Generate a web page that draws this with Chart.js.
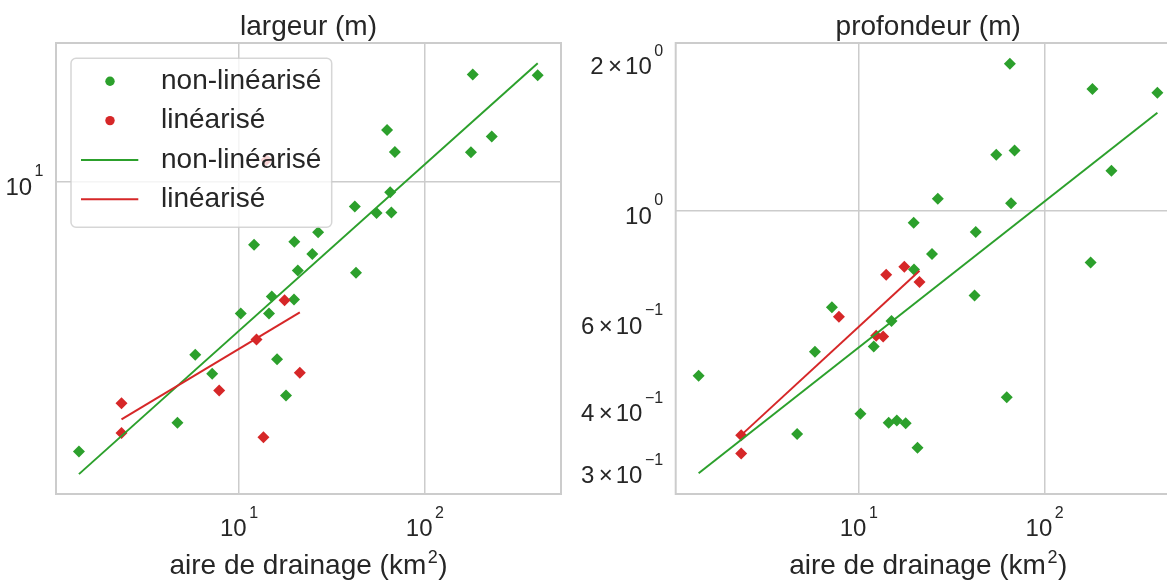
<!DOCTYPE html>
<html>
<head>
<meta charset="utf-8">
<script src="https://cdn.jsdelivr.net/npm/chart.js@4.4.1/dist/chart.umd.min.js"></script>
<style>
  html, body { margin: 0; padding: 0; background: #ffffff; overflow: hidden; width: 1167px; height: 582px; }
  #largeur { position: absolute; left: 0; top: 0; }
  #profondeur { position: absolute; left: 565px; top: 0; }
</style>
</head>
<body>
<canvas id="largeur" width="585" height="582"></canvas>
<canvas id="profondeur" width="625" height="582"></canvas>
<script>
// Drainage area (km²) of the non-linearised reaches, and their width / depth (m)
const areaNonLin = [1.375, 4.66, 5.81, 7.17, 10.21, 12.04, 14.49, 15.0, 16.02, 17.89, 19.75, 19.83, 20.71,
                    24.79, 26.64, 41.98, 42.6, 54.95, 62.58, 65.04, 66.0, 68.94, 176.9, 180.9, 228.9, 404.6];
const largeurNonLin = [1.53, 1.87, 3.0, 2.63, 4.0, 6.46, 4.0, 4.51, 2.91, 2.26, 4.41, 6.6, 5.4,
                       6.06, 7.06, 8.44, 5.32, 8.07, 14.4, 9.33, 8.09, 12.35, 12.33, 21.2, 13.75, 21.1];
const profondeurNonLin = [0.466, 0.356, 0.521, 0.640, 0.391, 0.534, 0.375, 0.601, 0.379, 0.374, 0.947, 0.763, 0.334,
                          0.819, 1.059, 0.676, 0.907, 1.298, 0.422, 1.979, 1.036, 1.323, 0.788, 1.760, 1.205, 1.730];

// Linearised reaches
const areaLin = [2.33, 2.33, 7.82, 12.41, 13.53, 14.05, 17.58, 21.23];
const largeurLin = [2.14, 1.74, 2.34, 3.34, 1.69, 11.68, 4.39, 2.65];
const profondeurLin = [0.354, 0.325, 0.613, 0.561, 0.559, 0.744, 0.772, 0.720];

// Fitted power laws, evaluated at both ends of each group's area range
const fitAreaNonLin = [1.375, 404.6];
const fitLargeurNonLin = [1.306, 22.94];
const fitProfondeurNonLin = [0.2967, 1.577];
const fitAreaLin = [2.33, 21.23];
const fitLargeurLin = [1.913, 4.037];
const fitProfondeurLin = [0.354, 0.7585];

const seriesLabels = ['non-linéarisé', 'linéarisé'];

// Axis ticks: [mantissa, base, exponent]
const xTickValues = [10, 100];
const xTickLabels = [['', '10', '1'], ['', '10', '2']];
const largeurTickValues = [10];
const largeurTickLabels = [['', '10', '1']];
const profondeurGridValues = [1];
const profondeurTickValues = [0.3, 0.4, 0.6, 1, 2];
const profondeurTickLabels = [['3', '10', '\u22121'], ['4', '10', '\u22121'], ['6', '10', '\u22121'],
                              ['', '10', '0'], ['2', '10', '0']];

const GREEN = '#2ca02c';
const RED = '#d62728';
const TEXT = '#262626';
const GRID = '#cccccc';
const FONT = '"Liberation Sans", Arial, Helvetica, sans-serif';
const font = px => px + 'px ' + FONT;

const pts = (xs, ys) => xs.map((x, i) => ({ x: x, y: ys[i] }));

function drawPower(ctx, parts, x, y, align) {
  const segs = [];
  if (parts[0]) {
    segs.push({ t: parts[0], px: 24, dy: 0, after: 4.5 });
    segs.push({ t: '\u00d7', px: 24, dy: 0, after: 3 });
  }
  segs.push({ t: parts[1], px: 24, dy: 0, after: 2.5 });
  segs.push({ t: parts[2], px: 16, dy: -18.3, after: 0 });
  let w = 0;
  segs.forEach(s => { ctx.font = font(s.px); s.w = ctx.measureText(s.t).width; w += s.w + s.after; });
  let cx = align === 'center' ? x - w / 2 : x - w;
  ctx.textAlign = 'left';
  ctx.textBaseline = 'alphabetic';
  segs.forEach(s => { ctx.font = font(s.px); ctx.fillText(s.t, cx, y + s.dy); cx += s.w + s.after; });
}

function drawAxisTitle(ctx, cx, y) {
  const segs = [
    { t: 'aire de drainage (km', px: 28, dy: 0, after: 1.5 },
    { t: '2', px: 18, dy: -11, after: 0.5 },
    { t: ')', px: 28, dy: 0, after: 0 }
  ];
  let w = 0;
  segs.forEach(s => { ctx.font = font(s.px); s.w = ctx.measureText(s.t).width; w += s.w + s.after; });
  let x = cx - w / 2;
  ctx.textAlign = 'left';
  ctx.textBaseline = 'alphabetic';
  segs.forEach(s => { ctx.font = font(s.px); ctx.fillText(s.t, x, y + s.dy); x += s.w + s.after; });
}

function roundRect(ctx, x, y, w, h, r) {
  ctx.beginPath();
  ctx.moveTo(x + r, y);
  ctx.lineTo(x + w - r, y);
  ctx.arcTo(x + w, y, x + w, y + r, r);
  ctx.lineTo(x + w, y + h - r);
  ctx.arcTo(x + w, y + h, x + w - r, y + h, r);
  ctx.lineTo(x + r, y + h);
  ctx.arcTo(x, y + h, x, y + h - r, r);
  ctx.lineTo(x, y + r);
  ctx.arcTo(x, y, x + r, y, r);
  ctx.closePath();
}

function decor(cfg) {
  return {
    id: 'decor',
    beforeDatasetsDraw(chart) {
      const a = chart.chartArea, ctx = chart.ctx;
      ctx.save();
      ctx.strokeStyle = GRID;
      ctx.lineWidth = 2;
      ctx.strokeRect(a.left, a.top, a.right - a.left, a.bottom - a.top);
      ctx.restore();
    },
    afterDatasetsDraw(chart) {
      if (!cfg.legend) return;
      const a = chart.chartArea, ctx = chart.ctx;
      const bx = a.left + 15, by = a.top + 15.3, bw = 260.7, bh = 169;
      ctx.save();
      roundRect(ctx, bx, by, bw, bh, 5);
      ctx.fillStyle = 'rgba(255,255,255,0.8)';
      ctx.fill();
      ctx.strokeStyle = 'rgba(204,204,204,0.8)';
      ctx.lineWidth = 1.5;
      ctx.stroke();
      const entries = [
        { kind: 'dot', color: GREEN, label: seriesLabels[0] },
        { kind: 'dot', color: RED, label: seriesLabels[1] },
        { kind: 'line', color: GREEN, label: seriesLabels[0] },
        { kind: 'line', color: RED, label: seriesLabels[1] }
      ];
      entries.forEach((e, i) => {
        const cy = by + 23 + i * 39.3;
        if (e.kind === 'dot') {
          ctx.beginPath();
          ctx.arc(bx + 39, cy, 4.7, 0, Math.PI * 2);
          ctx.fillStyle = e.color;
          ctx.fill();
        } else {
          ctx.beginPath();
          ctx.moveTo(bx + 10, cy);
          ctx.lineTo(bx + 67.3, cy);
          ctx.strokeStyle = e.color;
          ctx.lineWidth = 2;
          ctx.stroke();
        }
        ctx.fillStyle = TEXT;
        ctx.font = font(28);
        ctx.textAlign = 'left';
        ctx.textBaseline = 'alphabetic';
        ctx.fillText(e.label, bx + 90, cy + 7.8);
      });
      ctx.restore();
    },
    afterDraw(chart) {
      const a = chart.chartArea, ctx = chart.ctx;
      const xs = chart.scales.x, ys = chart.scales.y;
      const cx = (a.left + a.right) / 2;
      ctx.save();
      ctx.fillStyle = TEXT;
      // title
      ctx.font = font(28);
      ctx.textAlign = 'center';
      ctx.textBaseline = 'alphabetic';
      ctx.fillText(cfg.title, cx, 35);
      // x tick labels
      xTickValues.forEach((v, i) => {
        drawPower(ctx, xTickLabels[i], xs.getPixelForValue(v), a.bottom + 42, 'center');
      });
      // y tick labels
      cfg.yTickValues.forEach((v, i) => {
        drawPower(ctx, cfg.yTickLabels[i], a.left - 12.5, ys.getPixelForValue(v) + 12.5, 'right');
      });
      drawAxisTitle(ctx, cx, a.bottom + 80);
      ctx.restore();
    }
  };
}

function makeChart(id, cfg) {
  const gridOpts = { color: GRID, lineWidth: 1.5, drawTicks: false };
  return new Chart(document.getElementById(id), {
    type: 'scatter',
    data: {
      datasets: [
        { label: seriesLabels[0], data: pts(areaNonLin, cfg.yNonLin), pointStyle: 'rectRot',
          pointRadius: 6, pointHoverRadius: 6, backgroundColor: GREEN, borderWidth: 0, order: 4 },
        { label: seriesLabels[1], data: pts(areaLin, cfg.yLin), pointStyle: 'rectRot',
          pointRadius: 6, pointHoverRadius: 6, backgroundColor: RED, borderWidth: 0, order: 3 },
        { label: seriesLabels[0], data: pts(fitAreaNonLin, cfg.fitNonLin), showLine: true,
          pointRadius: 0, borderColor: GREEN, borderWidth: 2, order: 2 },
        { label: seriesLabels[1], data: pts(fitAreaLin, cfg.fitLin), showLine: true,
          pointRadius: 0, borderColor: RED, borderWidth: 2, order: 1 }
      ]
    },
    options: {
      responsive: false,
      animation: false,
      events: [],
      devicePixelRatio: 1,
      layout: { padding: cfg.padding },
      plugins: { legend: { display: false }, tooltip: { enabled: false }, title: { display: false } },
      scales: {
        x: {
          type: 'logarithmic', min: 1.035, max: 540, bounds: 'data',
          afterBuildTicks: s => { s.ticks = xTickValues.map(v => ({ value: v })); },
          ticks: { display: false }, grid: gridOpts, border: { display: false }
        },
        y: {
          type: 'logarithmic', min: cfg.yMin, max: cfg.yMax, bounds: 'data',
          afterBuildTicks: s => { s.ticks = cfg.yGridValues.map(v => ({ value: v })); },
          ticks: { display: false }, grid: gridOpts, border: { display: false }
        }
      }
    },
    plugins: [decor(cfg)]
  });
}

makeChart('largeur', {
  title: 'largeur (m)',
  yNonLin: largeurNonLin, yLin: largeurLin,
  fitNonLin: fitLargeurNonLin, fitLin: fitLargeurLin,
  yMin: 1.137, yMax: 26.4,
  yGridValues: largeurTickValues,
  yTickValues: largeurTickValues, yTickLabels: largeurTickLabels,
  padding: { left: 56, top: 43, right: 24, bottom: 88 },
  legend: true
});

makeChart('profondeur', {
  title: 'profondeur (m)',
  yNonLin: profondeurNonLin, yLin: profondeurLin,
  fitNonLin: fitProfondeurNonLin, fitLin: fitProfondeurLin,
  yMin: 0.2695, yMax: 2.178,
  yGridValues: profondeurGridValues,
  yTickValues: profondeurTickValues, yTickLabels: profondeurTickLabels,
  padding: { left: 110.7, top: 43, right: 9.3, bottom: 88 },
  legend: false
});
</script>
</body>
</html>
